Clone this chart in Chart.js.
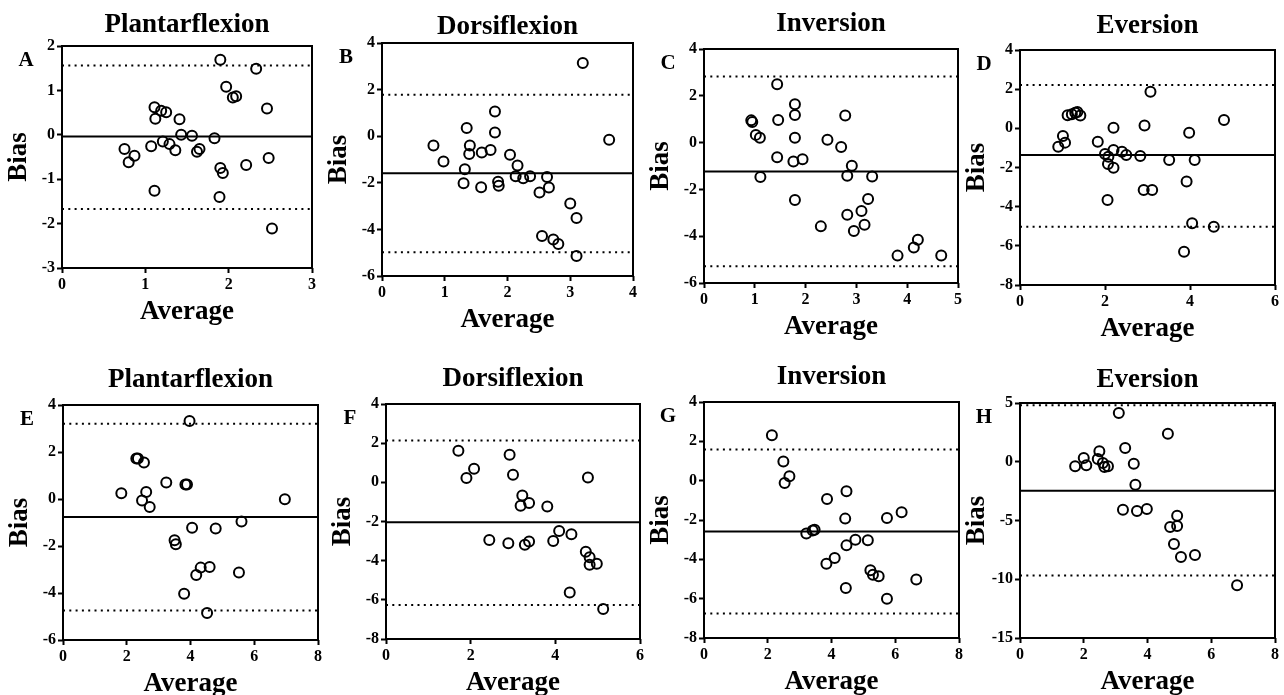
<!DOCTYPE html>
<html>
<head>
<meta charset="utf-8">
<script src="https://cdn.jsdelivr.net/npm/chart.js@4.4.0/dist/chart.umd.min.js"></script>
<style>
  body { margin: 0; background: #fff; }
  #fig { position: relative; width: 1284px; height: 695px; background: #fff; overflow: hidden; }
  #fig canvas { position: absolute; }
</style>
</head>
<body>
<div id="fig"></div>
<script>
// panel titles and letters
const titles = ['Plantarflexion', 'Dorsiflexion', 'Inversion', 'Eversion',
                'Plantarflexion', 'Dorsiflexion', 'Inversion', 'Eversion'];
const letters = ['A', 'B', 'C', 'D', 'E', 'F', 'G', 'H'];

// axis ranges / tick steps
const xMax = [3, 4, 5, 6, 8, 6, 8, 8];
const xStep = [1, 1, 1, 2, 2, 2, 2, 2];
const yMin = [-3, -6, -6, -8, -6, -8, -8, -15];
const yMax = [2, 4, 4, 4, 4, 4, 4, 5];
const yStep = [1, 2, 2, 2, 2, 2, 2, 5];

// mean bias and limits of agreement
const meanBias = [-0.04, -1.59, -1.23, -1.36, -0.77, -2.04, -2.58, -2.46];
const upperLoA = [1.56, 1.78, 2.82, 2.21, 3.20, 2.13, 1.58, 4.80];
const lowerLoA = [-1.67, -4.98, -5.28, -5.02, -4.74, -6.26, -6.76, -9.69];

// A - plantarflexion
const avgA = [1.90, 2.33, 1.97, 2.05, 2.09, 2.46, 1.11, 1.19, 1.25, 1.12, 1.41, 1.43, 1.56, 1.83, 0.75,
              1.07, 1.21, 1.29, 1.36, 1.65, 1.62, 0.87, 0.80, 1.90, 1.93, 2.21, 2.48, 1.11, 1.89, 2.52];
const biasA = [1.69, 1.49, 1.08, 0.84, 0.87, 0.59, 0.62, 0.54, 0.51, 0.36, 0.35, 0.00, -0.02, -0.08, -0.32,
               -0.26, -0.15, -0.21, -0.35, -0.32, -0.38, -0.47, -0.62, -0.75, -0.86, -0.68, -0.52, -1.26, -1.40, -2.11];
// B - dorsiflexion
const avgB = [3.20, 3.62, 1.80, 1.80, 1.35, 0.82, 1.40, 1.39, 0.98, 1.59, 1.73, 2.04, 2.16, 1.32, 1.30,
              1.58, 1.85, 1.86, 2.13, 2.25, 2.36, 2.63, 2.66, 2.51, 3.00, 3.10, 2.55, 2.73, 2.81, 3.10];
const biasB = [3.14, -0.15, 1.06, 0.16, 0.35, -0.40, -0.40, -0.76, -1.09, -0.70, -0.59, -0.80, -1.26, -1.42, -2.02,
               -2.19, -1.95, -2.13, -1.72, -1.80, -1.72, -1.75, -2.20, -2.42, -2.89, -3.51, -4.28, -4.43, -4.63, -5.14];
// C - inversion
const avgC = [0.93, 0.95, 1.02, 1.10, 1.11, 1.44, 1.46, 1.44, 1.79, 1.79, 1.79, 1.76, 1.94, 1.79, 2.30,
              2.43, 2.70, 2.78, 2.91, 2.82, 3.31, 3.23, 3.10, 2.82, 3.16, 2.95, 3.81, 4.13, 4.21, 4.67];
const biasC = [0.95, 0.88, 0.33, 0.21, -1.47, 2.49, 0.97, -0.63, 1.64, 1.18, 0.21, -0.81, -0.71, -2.45, -3.58,
               0.12, -0.19, 1.16, -0.99, -1.42, -1.45, -2.41, -2.92, -3.08, -3.51, -3.78, -4.83, -4.48, -4.15, -4.82];
// D - eversion
const avgD = [3.07, 4.80, 1.12, 1.22, 1.30, 1.35, 1.42, 0.90, 1.01, 1.06, 1.83, 2.20, 2.93, 3.98, 2.00, 2.08,
              2.07, 2.20, 2.20, 2.40, 2.50, 2.83, 3.51, 4.11, 3.92, 2.91, 3.11, 2.06, 4.05, 4.56, 3.86];
const biasD = [1.87, 0.43, 0.67, 0.72, 0.80, 0.83, 0.66, -0.94, -0.39, -0.73, -0.68, 0.03, 0.14, -0.22, -1.31, -1.45,
               -1.82, -2.01, -1.11, -1.19, -1.36, -1.41, -1.62, -1.62, -2.72, -3.15, -3.15, -3.66, -4.85, -5.02, -6.30];
// E - plantarflexion
const avgE = [3.97, 2.30, 2.35, 2.54, 3.24, 3.84, 3.89, 1.83, 2.61, 2.48, 2.72, 6.96, 5.60, 4.05, 4.79,
              3.50, 3.54, 4.18, 4.32, 4.60, 5.52, 3.80, 4.52];
const biasE = [3.32, 1.72, 1.72, 1.55, 0.70, 0.62, 0.62, 0.24, 0.30, -0.06, -0.34, -0.01, -0.96, -1.22, -1.26,
               -1.76, -1.93, -3.23, -2.92, -2.89, -3.13, -4.03, -4.85];
// F - dorsiflexion
const avgF = [1.71, 1.90, 2.08, 2.92, 3.00, 3.22, 3.18, 3.38, 3.81, 4.77, 2.44, 2.89, 3.28, 3.38, 3.95,
              4.09, 4.38, 4.72, 4.81, 4.81, 4.98, 4.34, 5.13];
const biasF = [1.61, 0.22, 0.69, 1.41, 0.39, -0.67, -1.20, -1.06, -1.24, 0.25, -2.94, -3.11, -3.19, -3.02, -2.99,
               -2.48, -2.65, -3.54, -3.82, -4.21, -4.16, -5.63, -6.47];
// G - inversion
const avgG = [2.13, 2.49, 2.68, 2.53, 3.86, 4.47, 4.43, 5.74, 6.20, 3.21, 3.41, 3.47, 4.47, 4.75, 5.14,
              3.84, 4.10, 5.22, 5.30, 5.48, 4.45, 5.74, 6.66];
const biasG = [2.31, 0.98, 0.22, -0.12, -0.93, -0.54, -1.93, -1.90, -1.61, -2.69, -2.53, -2.49, -3.29, -3.00, -3.03,
               -4.22, -3.93, -4.56, -4.78, -4.86, -5.46, -6.00, -5.03];
// H - eversion
const avgH = [3.10, 4.64, 3.30, 2.49, 2.00, 2.44, 1.73, 2.08, 2.60, 2.65, 2.76, 3.57, 3.62, 3.23, 3.67,
              3.98, 4.93, 4.71, 4.93, 4.83, 5.05, 5.49, 6.81];
const biasH = [4.15, 2.39, 1.17, 0.89, 0.32, 0.23, -0.39, -0.30, -0.10, -0.45, -0.39, -0.17, -1.96, -4.08, -4.19,
               -4.02, -4.60, -5.55, -5.47, -7.00, -8.10, -7.94, -10.52];

const avgs = [avgA, avgB, avgC, avgD, avgE, avgF, avgG, avgH];
const biases = [biasA, biasB, biasC, biasD, biasE, biasF, biasG, biasH];

// plot area of each panel on the page: left, top, right, bottom
const plotBoxes = [
  [62, 46, 312, 268], [382, 43, 633, 276], [704, 49, 958, 283], [1020, 50, 1275, 285],
  [63, 405, 318, 640], [386, 404, 640, 639], [704, 402, 959, 638], [1020, 403, 1275, 638],
];
// vertical centre of each panel title on the page
const titleY = [25, 27, 24, 26, 380, 379, 377, 380];

const FONT = "'Liberation Serif', 'Times New Roman', serif";
const Y_W = 62, TITLE_H = 46, X_H = 62, PAD_R = 14;
const TITLE_LH = 27 * 1.2;

const framePlugin = {
  id: 'frame',
  afterDraw(chart, args, opts) {
    const { ctx, chartArea: a } = chart;
    ctx.save();
    ctx.strokeStyle = '#000';
    ctx.lineWidth = 2;
    ctx.strokeRect(a.left, a.top, a.right - a.left, a.bottom - a.top);
    // panel letter
    ctx.fillStyle = '#000';
    ctx.font = 'bold 21px ' + FONT;
    ctx.textAlign = 'center';
    ctx.textBaseline = 'middle';
    ctx.fillText(opts.letter, a.left - 36, a.top + 15);
    ctx.restore();
  },
};

const fig = document.getElementById('fig');

function hLine(y, x1) {
  return [{ x: 0, y: y }, { x: x1, y: y }];
}

for (let i = 0; i < 8; i++) {
  const [left, top, right, bottom] = plotBoxes[i];
  const w = right - left + Y_W + PAD_R;
  const h = bottom - top + TITLE_H + X_H;
  const canvas = document.createElement('canvas');
  canvas.width = w;
  canvas.height = h;
  canvas.style.left = (left - Y_W) + 'px';
  canvas.style.top = (top - TITLE_H) + 'px';
  canvas.style.width = w + 'px';
  canvas.style.height = h + 'px';
  fig.appendChild(canvas);

  const padTop = titleY[i] - (top - TITLE_H) - TITLE_LH / 2;
  const padBottom = TITLE_H - TITLE_LH - padTop;

  const pts = avgs[i].map((x, j) => ({ x: x, y: biases[i][j] }));

  new Chart(canvas, {
    type: 'scatter',
    data: {
      datasets: [
        {
          data: pts,
          pointRadius: 5,
          pointHoverRadius: 5,
          pointBorderWidth: 2,
          borderColor: '#000',
          backgroundColor: 'rgba(0,0,0,0)',
        },
        {
          data: hLine(meanBias[i], xMax[i]),
          showLine: true,
          borderColor: '#000',
          borderWidth: 2,
          pointRadius: 0,
        },
        {
          data: hLine(upperLoA[i], xMax[i]),
          showLine: true,
          borderColor: '#000',
          borderWidth: 2,
          borderDash: [2, 4.3],
          pointRadius: 0,
        },
        {
          data: hLine(lowerLoA[i], xMax[i]),
          showLine: true,
          borderColor: '#000',
          borderWidth: 2,
          borderDash: [2, 4.3],
          pointRadius: 0,
        },
      ],
    },
    options: {
      responsive: false,
      animation: false,
      devicePixelRatio: 1,
      events: [],
      layout: { padding: { left: 0, right: PAD_R, top: 0, bottom: 0 } },
      plugins: {
        legend: { display: false },
        tooltip: { enabled: false },
        title: {
          display: true,
          text: titles[i],
          color: '#000',
          fullSize: false,
          font: { family: FONT, size: 27, weight: 'bold' },
          padding: { top: padTop, bottom: padBottom },
        },
        frame: { letter: letters[i] },
      },
      scales: {
        x: {
          type: 'linear',
          min: 0,
          max: xMax[i],
          border: { display: false },
          grid: { drawOnChartArea: false, tickLength: 5, tickWidth: 2, tickColor: '#000' },
          ticks: {
            stepSize: xStep[i],
            color: '#000',
            padding: 2,
            maxRotation: 0,
            font: { family: FONT, size: 16, weight: 'bold' },
          },
          title: {
            display: true,
            text: 'Average',
            color: '#000',
            font: { family: FONT, size: 27, weight: 'bold' },
            padding: { top: 0, bottom: 2 },
          },
          afterFit(s) { s.height = X_H; },
        },
        y: {
          type: 'linear',
          min: yMin[i],
          max: yMax[i],
          border: { display: false },
          grid: { drawOnChartArea: false, tickLength: 5, tickWidth: 2, tickColor: '#000' },
          ticks: {
            stepSize: yStep[i],
            color: '#000',
            padding: 2,
            font: { family: FONT, size: 16, weight: 'bold' },
          },
          title: {
            display: true,
            text: 'Bias',
            color: '#000',
            font: { family: FONT, size: 27, weight: 'bold' },
            padding: { top: 3, bottom: 0 },
          },
          afterFit(s) { s.width = Y_W; },
        },
      },
    },
    plugins: [framePlugin],
  });
}
</script>
</body>
</html>
